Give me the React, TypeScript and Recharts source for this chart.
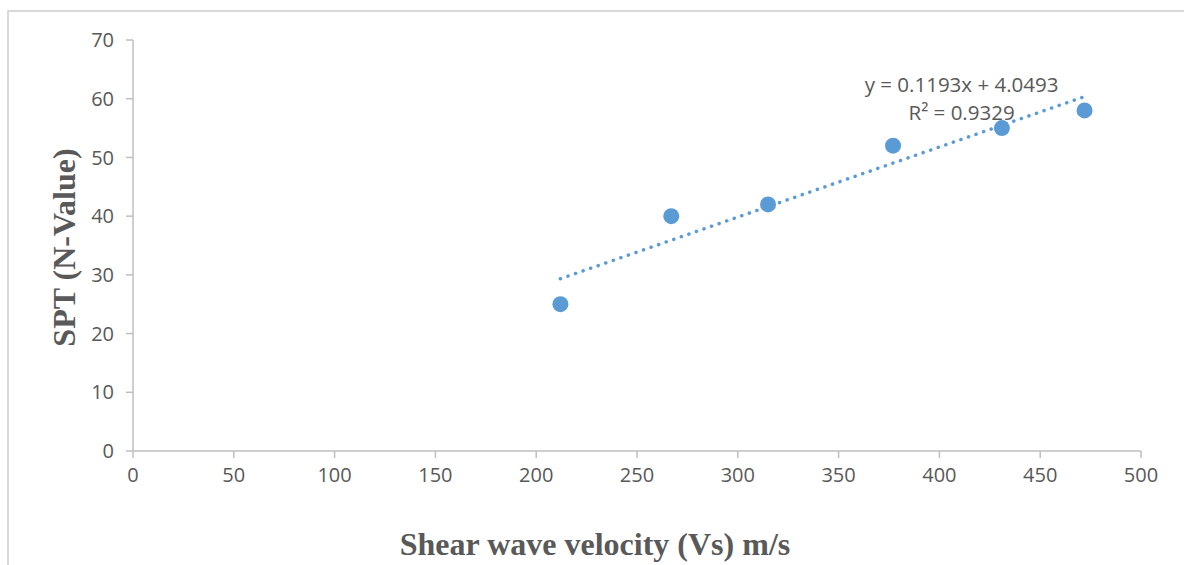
import React from 'react';
import { ScatterChart, Scatter, XAxis, YAxis, ReferenceDot } from 'recharts';

// measured points (Vs in m/s vs SPT N)
const vsValues = [212, 267, 315, 377, 431, 472];
const sptValues = [25, 40, 42, 52, 55, 58];

// linear trendline ends as drawn in the source chart
const trendVs = [212, 472];
const trendSpt = [29.34, 60.36];

const xTicks = [0, 50, 100, 150, 200, 250, 300, 350, 400, 450, 500];
const yTicks = [0, 10, 20, 30, 40, 50, 60, 70];

const eqLines = ['y = 0.1193x + 4.0493', 'R² = 0.9329'];

const points = vsValues.map((v, i) => ({ x: v, y: sptValues[i] }));
const trend = trendVs.map((v, i) => ({ x: v, y: trendSpt[i] }));

const BLUE = '#5b9bd5';
const AXIS = '#bfbfbf';
const TEXT = '#595959';
const tickStyle = { fill: TEXT, fontSize: 20, fontFamily: '"Open Sans", sans-serif' };
const titleStyle: React.CSSProperties = { fontFamily: '"Liberation Serif", serif', fontWeight: 'bold', fontSize: 32 };

const XTitle = (props: any) => {
  const { viewBox } = props;
  return (
    <text x={595} y={viewBox.y + 104} textAnchor="middle" fill={TEXT} style={titleStyle}>
      Shear wave velocity (Vs) m/s
    </text>
  );
};

const YTitle = (props: any) => {
  const { viewBox } = props;
  const cx = 64;
  const cy = viewBox.y + viewBox.height / 2 + 2;
  return (
    <text x={cx} y={cy} textAnchor="middle" dominantBaseline="central" fill={TEXT} transform={`rotate(-90 ${cx} ${cy})`} style={titleStyle}>
      SPT (N-Value)
    </text>
  );
};

const EqLabel = (props: any) => {
  const { viewBox } = props;
  const cx = viewBox.x + viewBox.width / 2;
  const cy = viewBox.y + viewBox.height / 2;
  return (
    <g>
      {eqLines.map((t, i) => (
        <text key={t} x={cx} y={cy + i * 28} textAnchor="middle" fill={TEXT} fontSize={20.5} fontFamily='"Open Sans", sans-serif'>
          {t}
        </text>
      ))}
    </g>
  );
};

export default function App() {
  return (
    <div style={{ position: 'absolute', left: 0, top: 0, width: 1184, height: 565, background: '#fff' }}>
      <div style={{ position: 'absolute', left: 7, top: 10, right: -2, bottom: -2, borderLeft: '2px solid #d9d9d9', borderTop: '2px solid #d9d9d9' }} />
      <ScatterChart width={1184} height={565} margin={{ top: 40, right: 43, bottom: 0, left: 0 }}>
        <XAxis
          type="number"
          dataKey="x"
          domain={[0, 500]}
          ticks={xTicks}
          height={114}
          stroke={AXIS}
          strokeWidth={1.5}
          tickSize={7}
          tickMargin={10}
          tick={tickStyle}
          label={<XTitle />}
        />
        <YAxis
          type="number"
          dataKey="y"
          domain={[0, 70]}
          ticks={yTicks}
          width={133}
          stroke={AXIS}
          strokeWidth={1.5}
          tickSize={7}
          tickMargin={12}
          tick={tickStyle}
          label={<YTitle />}
        />
        <Scatter
          data={trend}
          isAnimationActive={false}
          shape={() => <g />}
          line={{ stroke: BLUE, strokeWidth: 3.5, strokeDasharray: '0.1 7.9', strokeLinecap: 'round' }}
          legendType="none"
        />
        <Scatter data={points} fill={BLUE} isAnimationActive={false} shape={(p: any) => <circle cx={p.cx} cy={p.cy} r={8} fill={BLUE} />} />
        <ReferenceDot x={411} y={61.15} r={1} fill="none" stroke="none" label={<EqLabel />} />
      </ScatterChart>
    </div>
  );
}
